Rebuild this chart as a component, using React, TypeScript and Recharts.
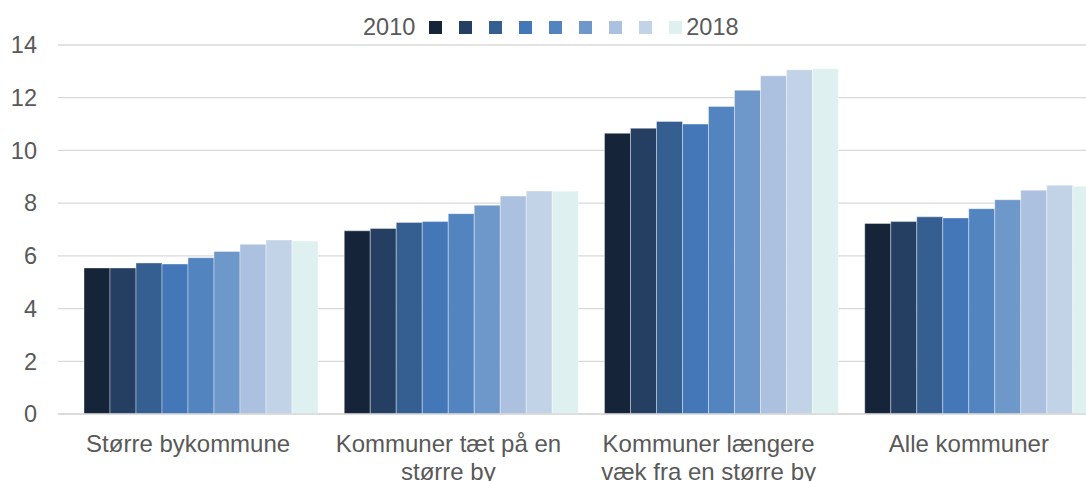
import { BarChart, Bar, XAxis, YAxis, CartesianGrid } from "recharts";

const categories = [
  "Større bykommune",
  "Kommuner tæt på en\nstørre by",
  "Kommuner længere\nvæk fra en større by",
  "Alle kommuner",
];

const years = ["2010", "2011", "2012", "2013", "2014", "2015", "2016", "2017", "2018"];

const values2010 = [5.54, 6.95, 10.65, 7.23];
const values2011 = [5.54, 7.04, 10.84, 7.3];
const values2012 = [5.73, 7.27, 11.1, 7.48];
const values2013 = [5.69, 7.3, 11.0, 7.44];
const values2014 = [5.93, 7.6, 11.67, 7.79];
const values2015 = [6.17, 7.92, 12.28, 8.13];
const values2016 = [6.44, 8.27, 12.83, 8.49];
const values2017 = [6.6, 8.46, 13.06, 8.68];
const values2018 = [6.56, 8.45, 13.1, 8.64];

const seriesValues = [
  values2010,
  values2011,
  values2012,
  values2013,
  values2014,
  values2015,
  values2016,
  values2017,
  values2018,
];

const yTicks = [0, 2, 4, 6, 8, 10, 12, 14];

const COLORS = [
  "#162439",
  "#243f62",
  "#355f90",
  "#4477b8",
  "#5284c0",
  "#6e98c9",
  "#abc1df",
  "#c2d3e8",
  "#dff0f0",
];

const FONT = '"Liberation Sans", Arial, sans-serif';
const TEXT = "#595959";

const data = categories.map((name, i) => {
  const row: Record<string, string | number | null> = { name, spacer: null };
  years.forEach((y, s) => {
    row[y] = seriesValues[s][i];
  });
  return row;
});

function CategoryTick(props: any) {
  const { x, y, payload } = props;
  const lines = String(payload.value).split("\n");
  return (
    <text
      x={x}
      y={y}
      textAnchor="middle"
      fill={TEXT}
      fontSize={24}
      fontFamily={FONT}
    >
      {lines.map((line, i) => (
        <tspan key={i} x={x} dy={i === 0 ? 37.5 : 28}>
          {line}
        </tspan>
      ))}
    </text>
  );
}

// legend: only first and last year are labelled, like the source
function YearLegend() {
  return (
    <div
      style={{
        position: "absolute",
        top: 13,
        left: 363,
        display: "flex",
        alignItems: "center",
        height: 28,
        fontFamily: FONT,
        fontSize: 23.5,
        color: TEXT,
        whiteSpace: "nowrap",
      }}
    >
      <span>{years[0]}</span>
      {COLORS.map((c, i) => (
        <span
          key={i}
          style={{
            display: "inline-block",
            width: 13,
            height: 13,
            background: c,
            marginLeft: i === 0 ? 14 : 17,
          }}
        />
      ))}
      <span style={{ marginLeft: 4 }}>{years[years.length - 1]}</span>
    </div>
  );
}

export default function App() {
  return (
    <div
      style={{
        position: "absolute",
        left: 0,
        top: 0,
        width: 1086,
        height: 481,
        overflow: "hidden",
        background: "#fff",
      }}
    >
      <BarChart
        width={1100}
        height={481}
        data={data}
        margin={{ top: 45, right: 1, bottom: 0, left: 0 }}
        barCategoryGap={0}
        barGap={0}
      >
        <CartesianGrid vertical={false} stroke="#d9d9d9" strokeWidth={1.3} />
        <XAxis
          dataKey="name"
          height={67}
          interval={0}
          tick={<CategoryTick />}
          tickLine={false}
          tickSize={0}
          tickMargin={0}
          axisLine={{ stroke: "#d9d9d9", strokeWidth: 1.3 }}
        />
        <YAxis
          width={58}
          domain={[0, 14]}
          ticks={yTicks}
          axisLine={false}
          tickLine={false}
          tickSize={0}
          tickMargin={21}
          tick={{ fill: TEXT, fontSize: 23.5, fontFamily: FONT }}
        />
        {/* empty first slot: bars sit right of the label centre in the source */}
        <Bar dataKey="spacer" fill="none" isAnimationActive={false} legendType="none" />
        {years.map((y, s) => (
          <Bar
            key={y}
            dataKey={y}
            fill={COLORS[s]}
            stroke="#ffffff"
            strokeOpacity={0.5}
            strokeWidth={0.75}
            isAnimationActive={false}
          />
        ))}
      </BarChart>
      <YearLegend />
    </div>
  );
}
